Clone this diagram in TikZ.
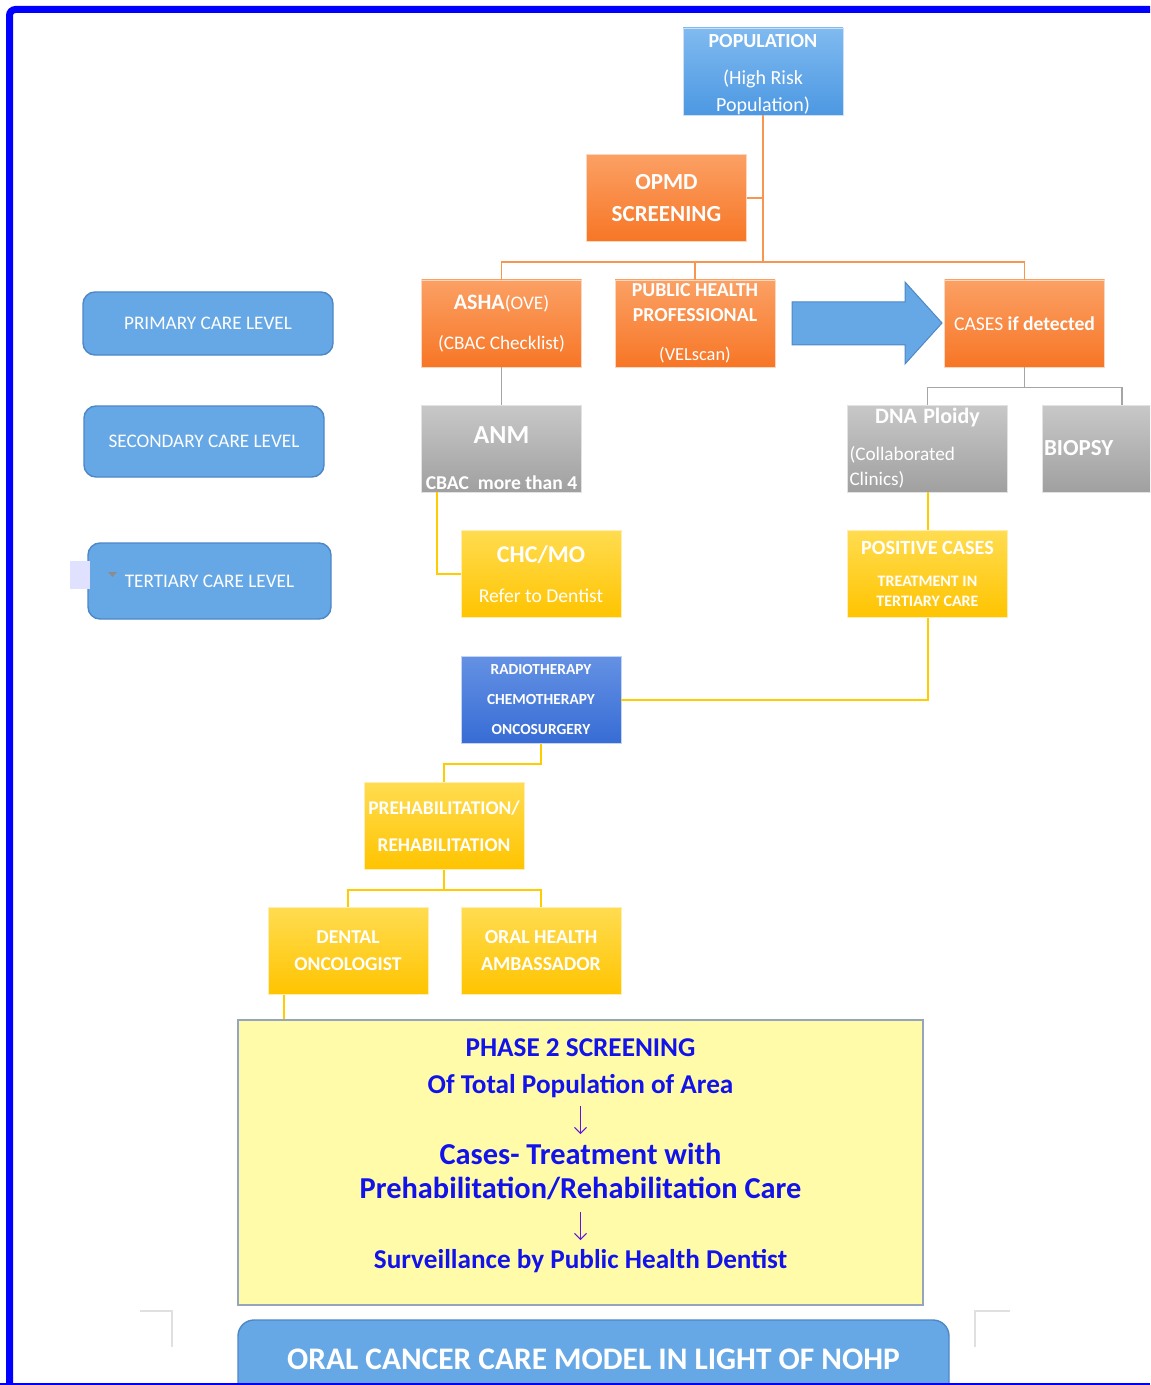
\documentclass[tikz,border=0pt]{standalone}
\usepackage{fontspec}
\setmainfont{Carlito}
\usetikzlibrary{arrows.meta, positioning, calc}
\definecolor{bordc}{RGB}{0,0,255}
\definecolor{levc}{RGB}{102,168,230}
\definecolor{levd}{RGB}{78,135,198}
\definecolor{popt}{RGB}{128,186,240}
\definecolor{popb}{RGB}{76,152,226}
\definecolor{orgt}{RGB}{251,160,100}
\definecolor{orgb}{RGB}{247,118,38}
\definecolor{grt}{RGB}{200,200,200}
\definecolor{grb}{RGB}{160,160,160}
\definecolor{ylt}{RGB}{255,220,80}
\definecolor{ylb}{RGB}{255,196,0}
\definecolor{rdt}{RGB}{100,145,228}
\definecolor{rdb}{RGB}{55,108,212}
\definecolor{phf}{RGB}{255,251,168}
\definecolor{phd}{RGB}{150,165,190}
\definecolor{pht}{RGB}{18,18,235}
\definecolor{pharr}{RGB}{95,20,225}
\definecolor{orgl}{RGB}{247,150,80}
\definecolor{grl}{RGB}{165,165,165}
\definecolor{yll}{RGB}{255,204,0}
\newcommand{\fsz}[2]{\fontsize{#1}{#2}\selectfont}
\tikzset{
  card/.style={minimum width=80pt, minimum height=43.5pt, inner sep=1pt,
               align=center, text=white, draw=white!70!#1, line width=0.4pt},
  card/.default=gray,
  popcard/.style={card=popb, top color=popt, bottom color=popb},
  orgcard/.style={card=orgb, top color=orgt, bottom color=orgb},
  grcard/.style={card=grb, top color=grt, bottom color=grb},
  ylcard/.style={card=ylb, top color=ylt, bottom color=ylb},
  rdcard/.style={card=rdb, top color=rdt, bottom color=rdb},
  level/.style={draw=levd, fill=levc, rounded corners=6pt, line width=0.7pt,
                text=white, font=\fsz{9.6}{11}},
  oline/.style={draw=orgl, line width=0.8pt},
  gline/.style={draw=grl, line width=0.8pt},
  yline/.style={draw=yll, line width=1pt},
  crop/.style={draw=black!12, line width=0.6pt},
}

\begin{document}
\begin{tikzpicture}[x=0.5pt, y=-0.5pt]
  \clip (0,0) rectangle (1150,1385);
  \fill[white] (0,0) rectangle (1150,1385);

  % care levels
  \node[level, minimum width=125pt, minimum height=31.5pt] (prim) at (208,323.5)
    {PRIMARY CARE LEVEL};
  \node[level, minimum width=120pt, minimum height=35.5pt] (sec) at (204,441.5)
    {SECONDARY CARE LEVEL};
  \node[level, minimum width=121.5pt, minimum height=38pt] (tert) at (209.5,581)
    {TERTIARY CARE LEVEL};
  \fill[blue!12] (70,561) rectangle (90,589);
  \fill[black!45] (108,572) -- (117,572) -- (112.5,577) -- cycle;

  % screening
  \node[popcard, inner ysep=0pt, font=\fsz{10}{13.5}] (pop) at (763,71.5)
    {\rule{0pt}{9.5pt}\textbf{POPULATION}\\[5pt](High Risk\\Population)};
  \node[orgcard, font=\fsz{11.5}{16}\bfseries] (opmd) at (666.5,198)
    {OPMD\\SCREENING};
  \node[orgcard, font=\fsz{9.6}{20}] (asha) at (501.5,323.5)
    {{\fsz{11}{20}\bfseries ASHA}(OVE)\\(CBAC Checklist)};
  \node[orgcard, font=\fsz{9.9}{12.5}] (php) at (695,323.5)
    {\textbf{PUBLIC HEALTH}\\\textbf{PROFESSIONAL}\\[7pt]{\fsz{9.2}{12.5}(VELscan)}};
  \node[orgcard, font=\fsz{9.8}{12}] (cases) at (1024.5,323.5)
    {CASES \textbf{if detected}};
  \coordinate (bus) at (763,262);
  \draw[oline] (pop.south) -- (bus);
  \draw[oline] (opmd.east) -- (opmd.east -| bus);
  \draw[oline] (asha.north) -- (asha.north |- bus) -- (cases.north |- bus) -- (cases.north);
  \draw[oline] (php.north) -- (php.north |- bus);
  % big arrow
  \draw[fill=levc, draw=levd, line width=0.5pt]
    (792,302) -- (905,302) -- (905,282) -- (942,323) -- (905,364) -- (905,345)
    -- (792,345) -- cycle;

  % second row
  \node[grcard, inner ysep=0pt, font=\fsz{9.8}{23}] (anm) at (501.5,448.5)
    {\rule{0pt}{18pt}{\fsz{13}{23}\bfseries ANM}\\\textbf{CBAC\ \ more than 4}};
  \node[grcard, inner ysep=0pt, text width=78pt, align=left, font=\fsz{9.6}{12.5}] (dna) at (927.5,448.5)
    {\makebox[\linewidth][c]{\fsz{11}{12.5}\bfseries DNA Ploidy}\\[6pt](Collaborated\\Clinics)};
  \node[grcard, text width=78pt, align=left, font=\fsz{11.5}{13}\bfseries] (biopsy) at (1122,448.5)
    {BIOPSY};
  \draw[gline] (asha.south) -- (anm.north);
  \draw[gline] (cases.south) -- ++(0,20) coordinate (cs);
  \draw[gline] (dna.north) |- (cs) -| (biopsy.north);

  % third row
  \node[ylcard, font=\fsz{9.8}{20}] (chc) at (541,574)
    {{\fsz{12}{20}\bfseries CHC/MO}\\Refer to Dentist};
  \node[ylcard, font=\fsz{8}{10}\bfseries] (pos) at (927.5,574)
    {{\fsz{10.1}{12}POSITIVE CASES}\\[6pt]TREATMENT IN\\TERTIARY CARE};
  \draw[yline] ([xshift=7.75pt]anm.south west) |- (chc.west);
  \draw[yline] (dna.south) -- (pos.north);

  % treatment
  \node[rdcard, font=\fsz{7.7}{15}\bfseries] (radio) at (541,700)
    {RADIOTHERAPY\\CHEMOTHERAPY\\ONCOSURGERY};
  \draw[yline] (pos.south) |- (radio.east);
  \node[ylcard, font=\fsz{9.7}{18.5}\bfseries] (prehab) at (444,826)
    {PREHABILITATION/\\REHABILITATION};
  \draw[yline] (radio.south) -- ++(0,20) -| (prehab.north);
  \node[ylcard, font=\fsz{9.8}{13.5}\bfseries] (dental) at (348,951)
    {DENTAL\\ONCOLOGIST};
  \node[ylcard, font=\fsz{9.9}{13.5}\bfseries] (oral) at (541,951)
    {ORAL HEALTH\\AMBASSADOR};
  \draw[yline] (prehab.south) -- ++(0,20) coordinate (pb);
  \draw[yline] (dental.north) |- (pb) -| (oral.north);

  % phase 2
  \node[draw=phd, fill=phf, line width=0.7pt, minimum width=342.5pt,
        minimum height=142.5pt, inner sep=0pt] (phase) at (580.5,1162.5) {};
  \node[anchor=north, inner sep=0pt, align=center, text=pht,
        font=\fsz{13.6}{17}\bfseries] (phasetxt) at (580.5,1038)
    {PHASE 2 SCREENING\\[1.5pt]
     Of Total Population of Area\\[18.5pt]
     {\fsz{15.2}{17}Cases- Treatment with}\\
     {\fsz{15.2}{17}Prehabilitation/Rehabilitation Care}\\[18pt]
     Surveillance by Public Health Dentist};
  \draw[pharr, line width=0.5pt, -{Straight Barb[length=3pt]}]
    (phase.center |- 0,1106) coordinate (a1) -- (a1 |- 0,1134);
  \draw[pharr, line width=0.5pt, -{Straight Barb[length=3pt]}]
    (phase.center |- 0,1212) coordinate (a2) -- (a2 |- 0,1240);
  \draw[yline] ([xshift=8pt]dental.south west) coordinate (d0) -- (d0 |- phase.north);

  % title
  \draw[crop] (140,1311) -- (172,1311) -- (172,1347);
  \draw[crop] (1010,1311) -- (975,1311) -- (975,1347);
  \node[draw=levd, fill=levc, line width=0.7pt, rounded corners=8pt,
        minimum width=355.5pt, minimum height=39pt, text=white,
        font=\fsz{15.7}{18}\bfseries] (title) at (593.5,1359)
    {ORAL CANCER CARE MODEL IN LIGHT OF NOHP};

  % frame
  \draw[bordc, line width=3.5pt, rounded corners=3pt] (1170,9.5) -- (9.5,9.5) -- (9.5,1400);
  \draw[bordc, line width=1.2pt] (0,1384) -- (1150,1384);
\end{tikzpicture}
\end{document}
